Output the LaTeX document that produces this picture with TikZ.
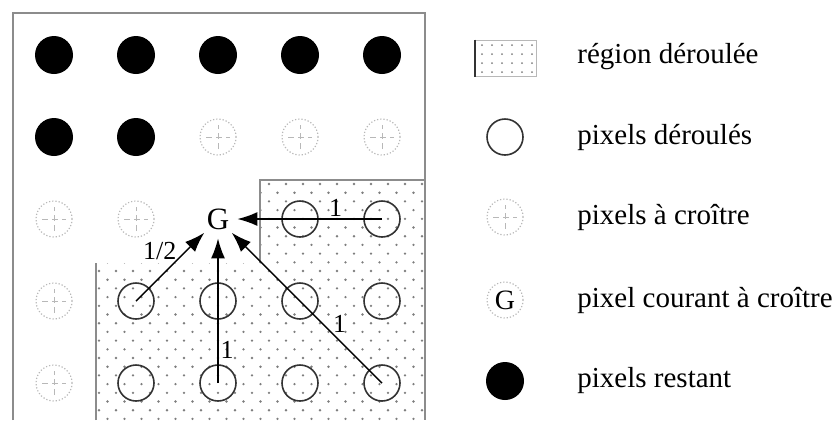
\documentclass[tikz,border=0pt]{standalone}
\usepackage{fontspec}
\setmainfont{Liberation Serif}
\usetikzlibrary{arrows.meta}
\definecolor{frame}{HTML}{8C8C8C}
\definecolor{faint}{HTML}{B8B8B8}
\definecolor{speck}{HTML}{7E7E7E}

\begin{document}
\begin{tikzpicture}[x=0.5pt,y=-0.5pt,
  restpx/.style={circle,fill=black,minimum size=19pt,inner sep=0pt},
  donepx/.style={circle,draw=black!80,line width=0.8pt,minimum size=18pt,inner sep=0pt},
  growpx/.style={circle,draw=faint,densely dotted,line width=0.6pt,minimum size=18pt,inner sep=0pt,
    path picture={\draw[faint,densely dashed,line width=0.5pt]
      ([xshift=-6pt]path picture bounding box.center) -- ([xshift=6pt]path picture bounding box.center)
      ([yshift=-6pt]path picture bounding box.center) -- ([yshift=6pt]path picture bounding box.center);}},
  curpx/.style={circle,minimum size=19pt,inner sep=0pt,font=\fontsize{15.5}{17}\selectfont},
  lbl/.style={font=\fontsize{13}{15}\selectfont,inner sep=1pt},
  leg/.style={font=\fontsize{14.5}{17}\selectfont,anchor=west,inner sep=0pt},
  arr/.style={-{Latex[length=10pt,width=7pt]},line width=0.7pt}
]
\useasboundingbox (0,0) rectangle (834,420);

% region deja deroulee
\begin{scope}
  \clip (96,425) -- (96,263) -- (260,263) -- (260,180) -- (425,180) -- (425,425) -- cycle;
  \foreach \j in {0,...,27}
    \foreach \i in {0,...,20}
      \fill[speck] ({99+\i*17+mod(\j,2)*8.5},{184+\j*8.7}) circle (0.65pt);
\end{scope}
\draw[frame,line width=0.8pt] (13,420) -- (13,13) -- (425,13) -- (425,420);
\draw[frame,line width=0.8pt] (96,420) -- (96,263);
\draw[frame,line width=0.6pt] (260,263) -- (260,180) -- (425,180);

% grille de pixels
\foreach \c/\x in {1/54,2/136,3/218,4/300,5/382}
  \node[restpx] (p1\c) at (\x,55) {};
\foreach \c/\x in {1/54,2/136}
  \node[restpx] (p2\c) at (\x,137) {};
\foreach \c/\x in {3/218,4/300,5/382}
  \node[growpx] (p2\c) at (\x,137) {};
\foreach \c/\x in {1/54,2/136}
  \node[growpx] (p3\c) at (\x,219) {};
\node[curpx] (G) at (218,219) {G};
\foreach \c/\x in {4/300,5/382}
  \node[donepx] (p3\c) at (\x,219) {};
\foreach \r/\y in {4/301,5/383} {
  \node[growpx] (p\r1) at (54,\y) {};
  \foreach \c/\x in {2/136,3/218,4/300,5/382}
    \node[donepx] (p\r\c) at (\x,\y) {};
}

% voisins ponderes
\draw[arr] (p35.center) -- node[lbl,pos=0.32,above] {1} (G);
\draw[arr] (p42.center) -- node[lbl,pos=0.6,above left,inner sep=0pt] {1/2} (G);
\draw[arr] (p53.center) -- node[lbl,pos=0.23,right] {1} (G);
\draw[arr] (p55.center) -- node[lbl,pos=0.33,above right,inner sep=0pt] {1} (G);

% legende
\node[minimum width=30.5pt,minimum height=18pt,inner sep=0pt,draw=faint,line width=0.5pt,
  path picture={\foreach \i in {0,...,5} \foreach \j in {0,...,3}
    \fill[speck] ([xshift=-12pt+\i*5pt,yshift=-7pt+\j*4.5pt]path picture bounding box.center) circle (0.5pt);}]
  (l1) at (506,58) {};
\draw[black!80,line width=0.8pt] (l1.north west) -- (l1.south west);
\node[donepx] (l2) at (505,137) {};
\node[growpx] (l3) at (505,217) {};
\node[curpx,draw=faint,densely dotted,line width=0.6pt,minimum size=18pt,font=\fontsize{14}{16}\selectfont] (l4) at (505,300) {G};
\node[restpx] (l5) at (505,381) {};
\node[leg] (t1) at (577,57) {région déroulée};
\node[leg] (t2) at (577,137) {pixels déroulés};
\node[leg] (t3) at (577,217) {pixels à croître};
\node[leg] (t4) at (577,300) {pixel courant à croître};
\node[leg] (t5) at (577,381) {pixels restant};
\end{tikzpicture}
\end{document}
